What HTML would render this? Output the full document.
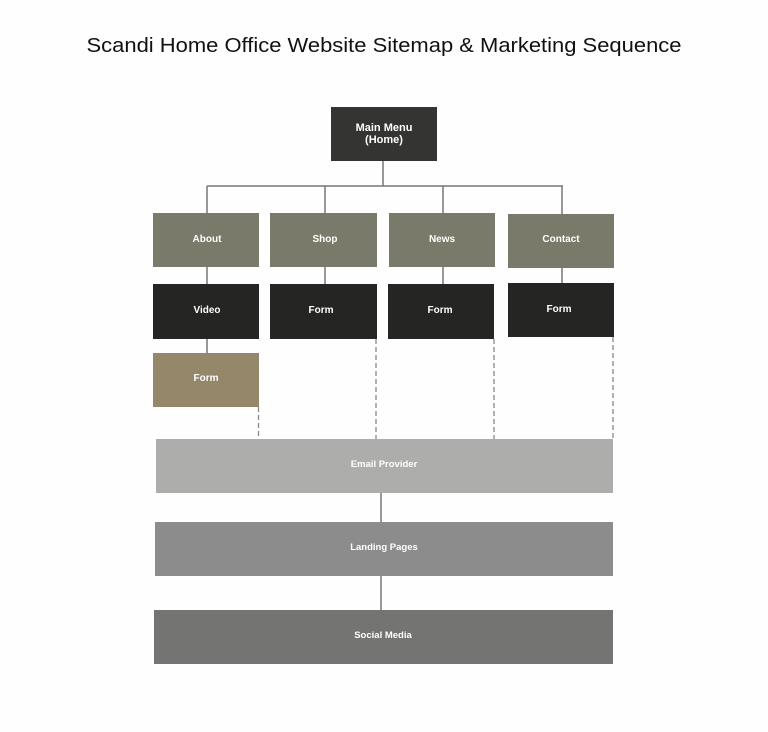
<!DOCTYPE html>
<html><head><meta charset="utf-8"><style>
html,body{margin:0;padding:0;background:#fefefe;}
svg{display:block;}
text{font-family:"Liberation Sans",sans-serif;}
</style></head><body>
<svg width="768" height="732" viewBox="0 0 768 732" xmlns="http://www.w3.org/2000/svg">
<rect width="768" height="732" fill="#fefefe"/>
<text x="384" y="52" font-size="20.5" fill="#111" text-anchor="middle" textLength="595" lengthAdjust="spacingAndGlyphs">Scandi Home Office Website Sitemap &amp; Marketing Sequence</text>

<g stroke="#777" stroke-width="1.5" fill="none">
<line x1="383" y1="161" x2="383" y2="186"/>
<line x1="207" y1="186" x2="563" y2="186"/>
<line x1="207" y1="186" x2="207" y2="213"/>
<line x1="325" y1="186" x2="325" y2="213"/>
<line x1="443" y1="186" x2="443" y2="213"/>
<line x1="562" y1="186" x2="562" y2="214"/>
<line x1="207" y1="267" x2="207" y2="284"/>
<line x1="325" y1="267" x2="325" y2="284"/>
<line x1="443" y1="267" x2="443" y2="284"/>
<line x1="562" y1="268" x2="562" y2="283"/>
<line x1="207" y1="339" x2="207" y2="353"/>
<line x1="381" y1="493" x2="381" y2="522"/>
<line x1="381" y1="576" x2="381" y2="610"/>
</g>
<g stroke="#888" stroke-width="1.3" stroke-dasharray="5,3" fill="none">
<line x1="258.5" y1="407" x2="258.5" y2="436"/>
<line x1="376" y1="339" x2="376" y2="439"/>
<line x1="494" y1="339" x2="494" y2="439"/>
<line x1="613" y1="337" x2="613" y2="439"/>
</g>

<rect x="331" y="107" width="106" height="54" fill="#343532"/>
<rect x="153" y="213" width="106" height="54" fill="#797a69"/>
<rect x="270" y="213" width="107" height="54" fill="#797a69"/>
<rect x="389" y="213" width="106" height="54" fill="#797a69"/>
<rect x="508" y="214" width="106" height="54" fill="#797a69"/>
<rect x="153" y="284" width="106" height="55" fill="#252523"/>
<rect x="270" y="284" width="107" height="55" fill="#252523"/>
<rect x="388" y="284" width="106" height="55" fill="#252523"/>
<rect x="508" y="283" width="106" height="54" fill="#252523"/>
<rect x="153" y="353" width="106" height="54" fill="#94876a"/>
<rect x="156" y="439" width="457" height="54" fill="#adadab"/>
<rect x="155" y="522" width="458" height="54" fill="#8c8c8c"/>
<rect x="154" y="610" width="459" height="54" fill="#747472"/>

<g fill="#fff" font-weight="bold" text-anchor="middle" font-size="10">
<text x="384" y="131" font-size="11">Main Menu</text>
<text x="384" y="143" font-size="11">(Home)</text>
<text x="207" y="242">About</text>
<text x="325" y="242">Shop</text>
<text x="442" y="242">News</text>
<text x="561" y="242">Contact</text>
<text x="207" y="313">Video</text>
<text x="321" y="313">Form</text>
<text x="440" y="313">Form</text>
<text x="559" y="312">Form</text>
<text x="206" y="381">Form</text>
<text x="384" y="467" font-size="9.5">Email Provider</text>
<text x="384" y="550" font-size="9.5">Landing Pages</text>
<text x="383" y="638" font-size="9.5">Social Media</text>
</g>
</svg>
</body></html>
